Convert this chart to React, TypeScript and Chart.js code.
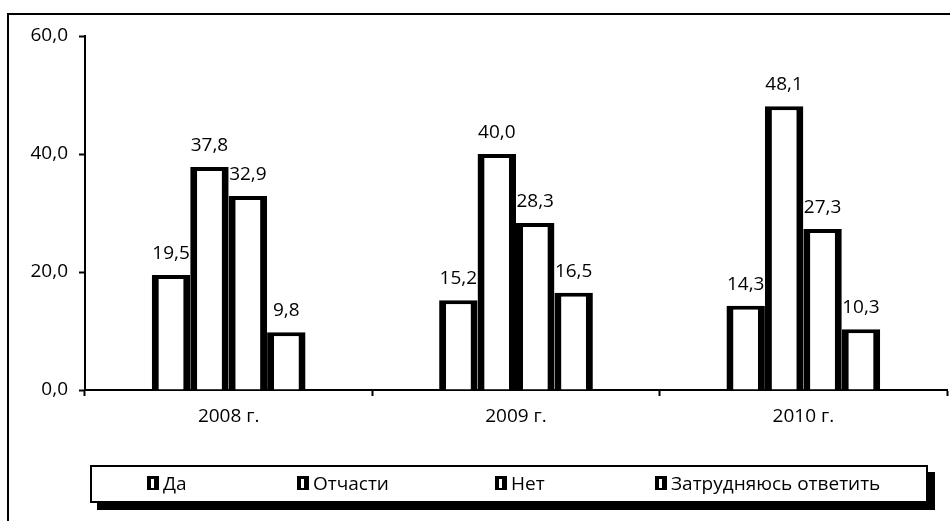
import React, { useEffect, useRef } from "react";
import { Chart, registerables } from "chart.js";

Chart.register(...registerables);

const categories = ["2008 г.", "2009 г.", "2010 г."];
const seriesNames = ["Да", "Отчасти", "Нет", "Затрудняюсь ответить"];
const daValues = [19.5, 15.2, 14.3];
const otchastiValues = [37.8, 40.0, 48.1];
const netValues = [32.9, 28.3, 27.3];
const zatrValues = [9.8, 16.5, 10.3];
const yMin = 0;
const yMax = 60;
const yStep = 20;

const seriesValues = [daValues, otchastiValues, netValues, zatrValues];
const FONT = "'Open Sans', 'Noto Sans', sans-serif";
const fmt = (v: number) => v.toFixed(1).replace(".", ",");

const valueLabels = {
  id: "valueLabels",
  afterDatasetsDraw(chart: any) {
    const ctx = chart.ctx;
    ctx.save();
    ctx.fillStyle = "#000";
    ctx.font = `19px ${FONT}`;
    ctx.textAlign = "center";
    ctx.textBaseline = "alphabetic";
    chart.data.datasets.forEach((ds: any, di: number) => {
      const meta = chart.getDatasetMeta(di);
      meta.data.forEach((el: any, i: number) => {
        ctx.fillText(fmt(ds.data[i]), el.x, el.y - 16);
      });
    });
    ctx.restore();
  },
};

function Marker() {
  return (
    <span
      style={{
        position: "absolute",
        left: 0,
        top: 5,
        width: 12,
        height: 14,
        background: "#000",
        display: "block",
      }}
    >
      <span
        style={{
          position: "absolute",
          left: 4,
          top: 3,
          width: 3,
          height: 9,
          background: "#fff",
          display: "block",
        }}
      />
    </span>
  );
}

export default function App() {
  const canvasRef = useRef<HTMLCanvasElement | null>(null);

  useEffect(() => {
    document.body.style.margin = "0";
    const canvas = canvasRef.current;
    if (!canvas) return;
    const chart = new Chart(canvas, {
      type: "bar",
      data: {
        labels: categories,
        datasets: seriesNames.map((name, i) => ({
          label: name,
          data: seriesValues[i],
          backgroundColor: "#ffffff",
          borderColor: "#000000",
          borderWidth: { top: 4, left: 7, right: 7, bottom: 0 },
          borderSkipped: "start",
          barPercentage: 1,
          categoryPercentage: 0.535,
        })),
      },
      options: {
        responsive: false,
        animation: false,
        events: [],
        layout: { padding: { top: 36, right: 3, left: 0, bottom: 0 } },
        plugins: {
          legend: { display: false },
          tooltip: { enabled: false },
          title: { display: false },
        },
        scales: {
          x: {
            offset: true,
            grid: {
              display: true,
              offset: true,
              drawOnChartArea: false,
              drawTicks: true,
              tickLength: 6,
              tickColor: "#000",
              tickWidth: 2,
            },
            border: { display: true, color: "#000", width: 2 },
            ticks: {
              color: "#000",
              font: { family: FONT, size: 19 },
              padding: 9,
            },
            afterFit(scale: any) {
              scale.height = 131;
            },
          },
          y: {
            min: yMin,
            max: yMax,
            grid: {
              display: true,
              drawOnChartArea: false,
              drawTicks: true,
              tickLength: 6,
              tickColor: "#000",
              tickWidth: 2,
            },
            border: { display: true, color: "#000", width: 2 },
            ticks: {
              stepSize: yStep,
              color: "#000",
              font: { family: FONT, size: 19 },
              padding: 11,
              callback: (v: any) => fmt(Number(v)),
            },
            afterFit(scale: any) {
              scale.width = 85;
            },
          },
        },
      },
      plugins: [valueLabels],
    } as any);
    return () => chart.destroy();
  }, []);

  const legendLeft = [147, 297, 495, 655];

  return (
    <div
      style={{
        position: "relative",
        width: 950,
        height: 521,
        background: "#fff",
        overflow: "hidden",
        fontFamily: FONT,
      }}
    >
      <div
        style={{
          position: "absolute",
          left: 7,
          top: 13,
          width: 950,
          height: 521,
          borderLeft: "2px solid #000",
          borderTop: "2px solid #000",
          boxSizing: "border-box",
        }}
      />
      <canvas
        ref={canvasRef}
        width={950}
        height={521}
        style={{ position: "absolute", left: 0, top: 0, width: 950, height: 521 }}
      />
      <div
        style={{
          position: "absolute",
          left: 90,
          top: 465,
          width: 838,
          height: 38,
          border: "2px solid #000",
          boxSizing: "border-box",
          background: "#fff",
          boxShadow: "7px 7px 0 #000",
        }}
      />
      {seriesNames.map((name, i) => (
        <div
          key={name}
          style={{
            position: "absolute",
            left: legendLeft[i],
            top: 471,
            height: 25,
            paddingLeft: 16,
            fontSize: 19,
            lineHeight: "25px",
            color: "#000",
            whiteSpace: "nowrap",
          }}
        >
          <Marker />
          {name}
        </div>
      ))}
    </div>
  );
}
